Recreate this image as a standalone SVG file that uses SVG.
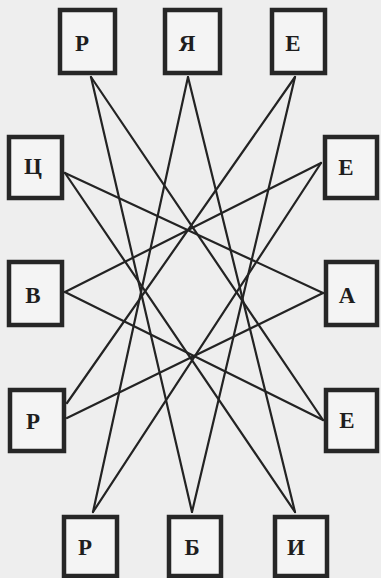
<svg xmlns="http://www.w3.org/2000/svg" width="381" height="578" viewBox="0 0 381 578">
<style>
.bg{fill:#eeeeee}
.box{fill:#f4f4f4;stroke:#262626;stroke-width:4.5}
.lbl{font-family:"Liberation Serif","DejaVu Serif",serif;font-weight:bold;font-size:23px;fill:#1e1e1e;text-anchor:middle}
.ln{stroke:#232323;stroke-width:2.2;fill:none;stroke-linecap:round}
</style>
<rect class="bg" x="0" y="0" width="381" height="578"/>
<g id="connectors">
<line class="ln" x1="91" y1="77" x2="192" y2="512"/>
<line class="ln" x1="91" y1="77" x2="323" y2="420"/>
<line class="ln" x1="188" y1="77" x2="93" y2="512"/>
<line class="ln" x1="188" y1="77" x2="295" y2="512"/>
<line class="ln" x1="295" y1="77" x2="192" y2="512"/>
<line class="ln" x1="295" y1="77" x2="67" y2="403"/>
<line class="ln" x1="65" y1="173" x2="323" y2="293"/>
<line class="ln" x1="65" y1="173" x2="295" y2="512"/>
<line class="ln" x1="65" y1="292" x2="321" y2="163"/>
<line class="ln" x1="65" y1="292" x2="323" y2="420"/>
<line class="ln" x1="67" y1="418" x2="323" y2="293"/>
<line class="ln" x1="321" y1="163" x2="93" y2="512"/>
</g>
<g id="top-r"><rect class="box" x="60" y="10" width="55" height="63"/><text class="lbl" x="82" y="51">Р</text></g>
<g id="top-ya"><rect class="box" x="165" y="10" width="55" height="63"/><text class="lbl" x="187" y="51">Я</text></g>
<g id="top-e"><rect class="box" x="272" y="10" width="53" height="63"/><text class="lbl" x="293" y="51">Е</text></g>
<g id="left-ts"><rect class="box" x="9" y="137" width="53" height="61"/><text class="lbl" x="33" y="174">Ц</text></g>
<g id="left-v"><rect class="box" x="9" y="262" width="53" height="63"/><text class="lbl" x="33" y="303">В</text></g>
<g id="left-r"><rect class="box" x="10" y="390" width="54" height="61"/><text class="lbl" x="33" y="429">Р</text></g>
<g id="right-e1"><rect class="box" x="325" y="137" width="52" height="61"/><text class="lbl" x="346" y="175">Е</text></g>
<g id="right-a"><rect class="box" x="326" y="262" width="51" height="63"/><text class="lbl" x="347" y="303">А</text></g>
<g id="right-e2"><rect class="box" x="326" y="390" width="51" height="61"/><text class="lbl" x="347" y="428">Е</text></g>
<g id="bottom-r"><rect class="box" x="64" y="517" width="53" height="59"/><text class="lbl" x="85" y="555">Р</text></g>
<g id="bottom-b"><rect class="box" x="169" y="517" width="52" height="59"/><text class="lbl" x="192" y="555">Б</text></g>
<g id="bottom-i"><rect class="box" x="275" y="517" width="52" height="59"/><text class="lbl" x="296" y="555">И</text></g>
</svg>
